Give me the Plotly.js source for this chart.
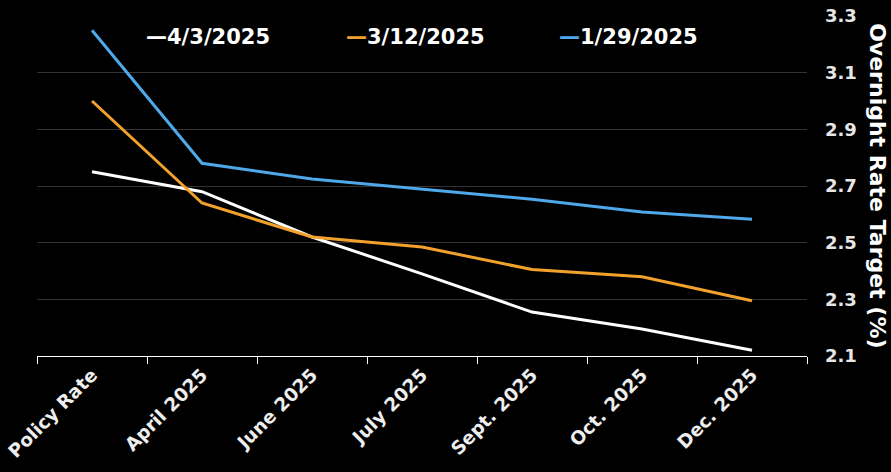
<!DOCTYPE html>
<html>
<head>
<meta charset="utf-8">
<script src="https://cdn.plot.ly/plotly-3.0.1.min.js"></script>
<style>
html,body{margin:0;padding:0;background:#000;}
#chart{width:891px;height:472px;}
</style>
</head>
<body>
<div id="chart"></div>
<script>
const categories = ["Policy Rate", "April 2025", "June 2025", "July 2025", "Sept. 2025", "Oct. 2025", "Dec. 2025"];
const seriesNames = ["4/3/2025", "3/12/2025", "1/29/2025"];
const apr3 = [2.75, 2.68, 2.52, 2.39, 2.255, 2.195, 2.12];
const mar12 = [3.0, 2.64, 2.52, 2.485, 2.405, 2.38, 2.295];
const jan29 = [3.25, 2.78, 2.725, 2.69, 2.653, 2.608, 2.583];
const yTicks = [2.1, 2.3, 2.5, 2.7, 2.9, 3.1, 3.3];
const colors = ["#ffffff", "#f2a22c", "#4ea8ea"];

const font = "DejaVu Sans, Verdana, sans-serif";
const allSeries = [apr3, mar12, jan29];
const traces = allSeries.map((vals, i) => ({
  type: "scatter", mode: "lines", x: categories, y: vals, name: seriesNames[i],
  line: {color: colors[i], width: 3}, hoverinfo: "x+y+name"
}));

const legendX = [0.139, 0.399, 0.675];
const annotations = seriesNames.map((n, i) => ({
  xref: "paper", yref: "paper", x: legendX[i], y: 0.938,
  xanchor: "left", yanchor: "middle", showarrow: false,
  text: '<span style="color:' + colors[i] + '">\u2014</span>' + n,
  font: {family: font, size: 21, color: "#ffffff", weight: "bold"}
}));
annotations.push({
  xref: "paper", yref: "paper", x: 1.092, y: 0.5, xanchor: "center", yanchor: "middle",
  showarrow: false, textangle: 90, text: "Overnight Rate Target (%)",
  font: {family: font, size: 22, color: "#ffffff", weight: "bold"}
});

const layout = {
  width: 891, height: 472,
  paper_bgcolor: "#000000", plot_bgcolor: "#000000",
  margin: {l: 37, r: 84, t: 16, b: 116},
  showlegend: false,
  xaxis: {
    type: "category", range: [-0.5, 6.5], showgrid: false, zeroline: false,
    showline: true, linecolor: "#ffffff", linewidth: 1,
    ticks: "outside", tickson: "boundaries", ticklen: 7, tickcolor: "#ffffff", tickwidth: 1,
    tickangle: -45, tickfont: {family: font, size: 18.5, color: "#eeeeee", weight: "bold"}
  },
  yaxis: {
    side: "right", range: [2.1, 3.3], tickvals: yTicks, ticktext: yTicks.map(v => v.toFixed(1)),
    showgrid: true, gridcolor: "#333333", gridwidth: 1, zeroline: false, showline: false,
    ticks: "", ticklabelstandoff: 17,
    tickfont: {family: font, size: 18, color: "#e6e6e6", weight: "bold"}
  },
  annotations: annotations
};

Plotly.newPlot("chart", traces, layout, {displayModeBar: false, staticPlot: false});
</script>
</body>
</html>
